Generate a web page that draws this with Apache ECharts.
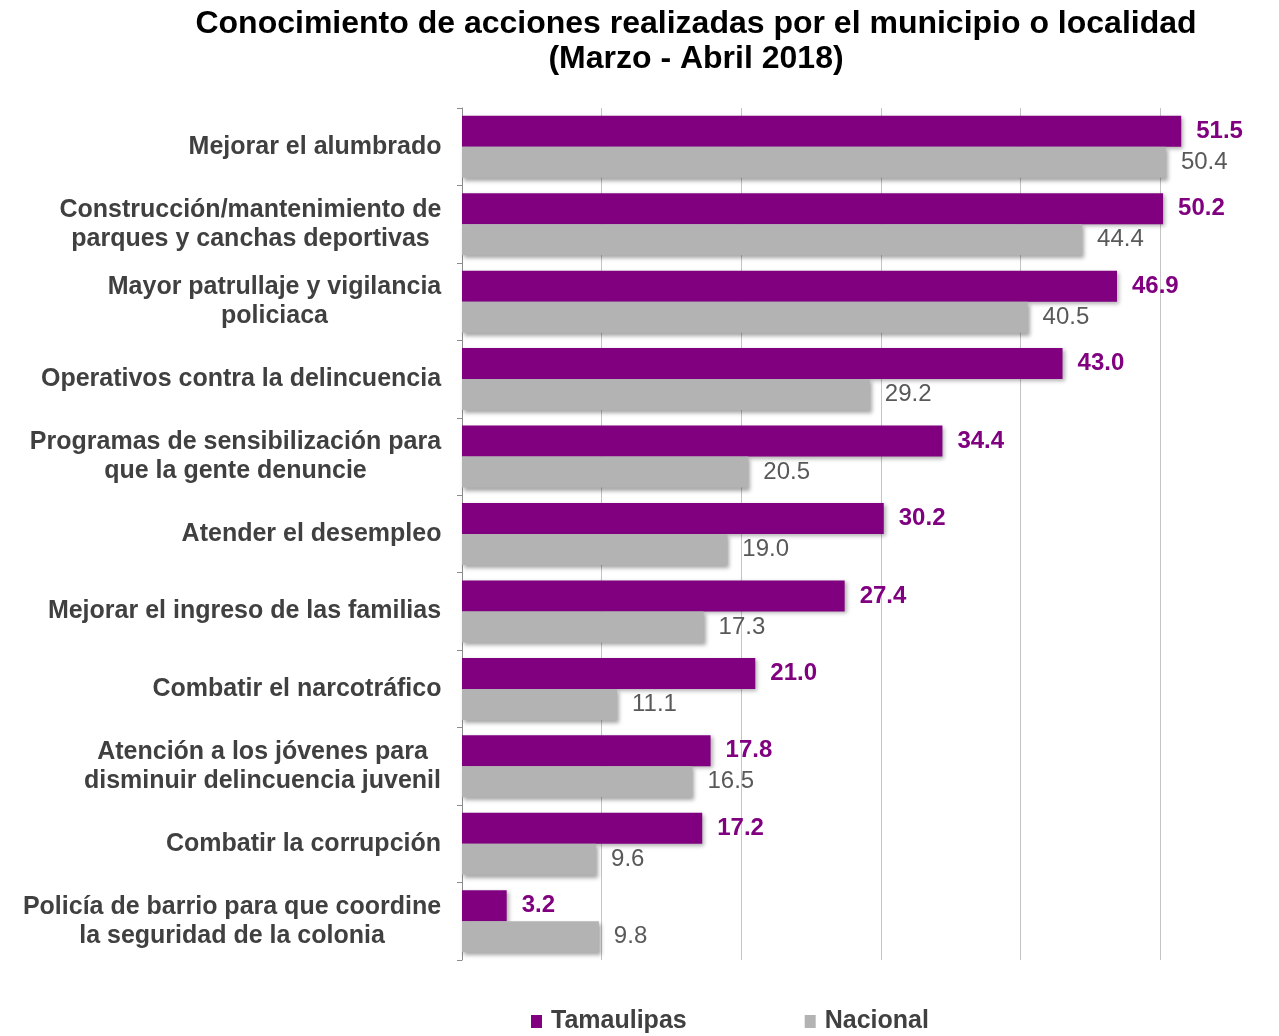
<!DOCTYPE html>
<html>
<head>
<meta charset="utf-8">
<script src="https://cdn.jsdelivr.net/npm/echarts@6/dist/echarts.min.js"></script>
<style>
html,body{margin:0;padding:0;background:#fff;}
#chart{width:1279px;height:1036px;}
</style>
</head>
<body>
<div id="chart"></div>
<script>
const categories = [
  "Mejorar el alumbrado",
  "Construcción/mantenimiento de\nparques y canchas deportivas",
  "Mayor patrullaje y vigilancia\npoliciaca",
  "Operativos contra la delincuencia",
  "Programas de sensibilización para\nque la gente denuncie",
  "Atender el desempleo",
  "Mejorar el ingreso de las familias",
  "Combatir el narcotráfico",
  "Atención a los jóvenes para\ndisminuir delincuencia juvenil",
  "Combatir la corrupción",
  "Policía de barrio para que coordine\nla seguridad de la colonia"
];
const tamaulipas = [51.5, 50.2, 46.9, 43.0, 34.4, 30.2, 27.4, 21.0, 17.8, 17.2, 3.2];
const nacional = [50.4, 44.4, 40.5, 29.2, 20.5, 19.0, 17.3, 11.1, 16.5, 9.6, 9.8];
const seriesNames = ["Tamaulipas", "Nacional"];

const FONT = '"Liberation Sans", Arial, sans-serif';
const labelFontSize = 25;
const ctx = document.createElement('canvas').getContext('2d');
ctx.font = 'bold ' + labelFontSize + 'px ' + FONT;
const rich = {};
categories.forEach((c, i) => {
  const lines = c.split('\n');
  const w = Math.max(...lines.map(l => ctx.measureText(l).width));
  rich['c' + i] = {
    width: Math.ceil(w) + 1,
    align: 'center',
    fontSize: labelFontSize,
    fontWeight: 'bold',
    fontFamily: FONT,
    color: '#404040',
    lineHeight: 29
  };
});

const chart = echarts.init(document.getElementById('chart'), null, {renderer: 'canvas'});
chart.setOption({
  animation: false,
  backgroundColor: '#ffffff',
  title: {
    text: 'Conocimiento de acciones realizadas por el municipio o localidad\n(Marzo - Abril 2018)',
    left: 691,
    textAlign: 'center',
    top: 2,
    textStyle: {
      fontFamily: FONT,
      fontSize: 32,
      fontWeight: 'bold',
      color: '#000000',
      lineHeight: 35
    }
  },
  legend: {
    data: seriesNames,
    left: 531,
    top: 1009,
    padding: 0,
    icon: 'rect',
    itemWidth: 11,
    itemHeight: 13,
    itemGap: 118,
    textStyle: {
      fontFamily: FONT,
      fontSize: 25,
      fontWeight: 'bold',
      color: '#404040',
      padding: [0, 0, 0, 4]
    }
  },
  grid: {
    left: 462,
    top: 108,
    right: 0,
    height: 852,
    containLabel: false
  },
  xAxis: {
    type: 'value',
    min: 0,
    max: 58.5,
    interval: 10,
    axisLabel: {show: false},
    axisLine: {show: false},
    axisTick: {show: false},
    splitLine: {show: true, showMinLine: true, showMaxLine: false, lineStyle: {color: '#c4c4c4', width: 1}}
  },
  yAxis: {
    type: 'category',
    inverse: true,
    data: categories,
    axisLine: {show: true, lineStyle: {color: '#8c8c8c', width: 1}},
    axisTick: {show: true, length: 5, lineStyle: {color: '#8c8c8c'}},
    axisLabel: {
      margin: 20,
      formatter: function (value, idx) {
        return value.split('\n').map(l => '{c' + idx + '|' + l + '}').join('\n');
      },
      rich: rich
    }
  },
  series: [
    {
      name: seriesNames[0],
      type: 'bar',
      data: tamaulipas,
      barWidth: 31,
      barGap: '0%',
      itemStyle: {
        color: '#800080',
        shadowBlur: 4,
        shadowOffsetX: 2,
        shadowOffsetY: 2,
        shadowColor: 'rgba(0,0,0,0.3)'
      },
      label: {
        show: true,
        position: 'right',
        distance: 15,
        formatter: p => p.value.toFixed(1),
        fontFamily: FONT,
        fontSize: 24,
        fontWeight: 'bold',
        color: '#800080'
      }
    },
    {
      name: seriesNames[1],
      type: 'bar',
      data: nacional,
      barWidth: 31,
      barGap: '0%',
      itemStyle: {
        color: '#b3b3b3',
        shadowBlur: 4,
        shadowOffsetX: 2,
        shadowOffsetY: 3,
        shadowColor: 'rgba(0,0,0,0.35)'
      },
      label: {
        show: true,
        position: 'right',
        distance: 15,
        formatter: p => p.value.toFixed(1),
        fontFamily: FONT,
        fontSize: 24,
        fontWeight: 'normal',
        color: '#595959'
      }
    }
  ]
});
</script>
</body>
</html>
